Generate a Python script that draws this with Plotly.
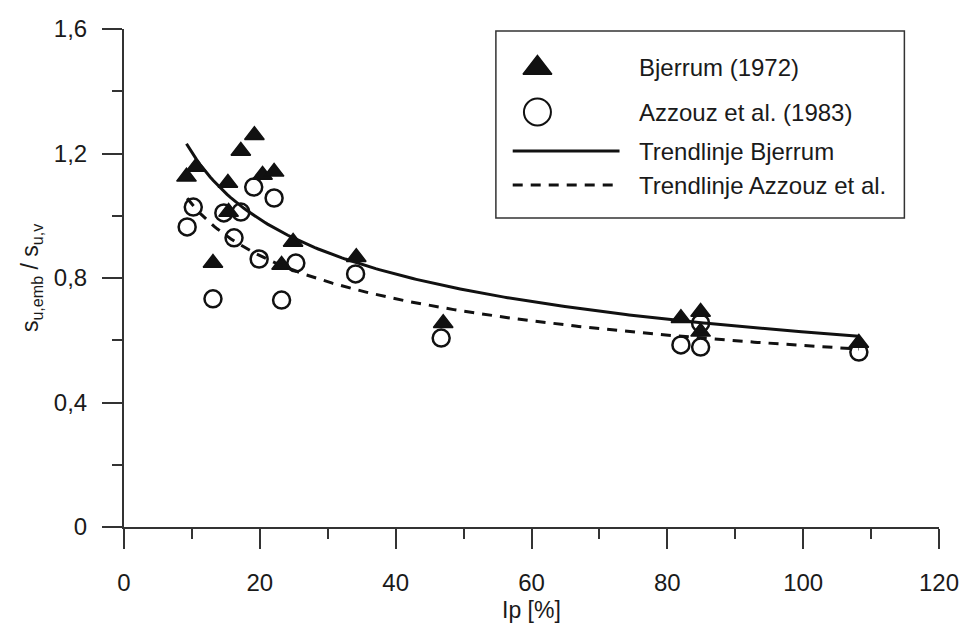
import numpy as np
import plotly.graph_objects as go

# Plasticity index Ip [%] and strength ratio s_u,emb / s_u,v
bjerrum_ip = [9.2, 10.6, 13.1, 15.3, 15.4, 17.2, 19.2, 20.4, 22.1, 23.2, 24.9,
              34.2, 47.0, 82.0, 84.9, 84.9, 108.2]
bjerrum_ratio = [1.125, 1.157, 0.848, 1.105, 1.012, 1.208, 1.259, 1.131, 1.141,
                 0.842, 0.916, 0.867, 0.655, 0.671, 0.691, 0.627, 0.591]

azzouz_ip = [9.3, 10.2, 13.1, 14.7, 16.2, 17.2, 19.1, 19.9, 22.1, 23.2, 25.3,
             34.1, 46.7, 82.0, 84.9, 84.9, 108.2]
azzouz_ratio = [0.964, 1.028, 0.733, 1.009, 0.929, 1.012, 1.092, 0.861, 1.057,
                0.729, 0.848, 0.813, 0.607, 0.585, 0.578, 0.655, 0.562]

x_tickvals = [0, 20, 40, 60, 80, 100, 120]
x_ticktext = ["0", "20", "40", "60", "80", "100", "120"]
y_tickvals = [0, 0.4, 0.8, 1.2, 1.6]
y_ticktext = ["0", "0,4", "0,8", "1,2", "1,6"]

legend_labels = ["Bjerrum (1972)", "Azzouz et al. (1983)",
                 "Trendlinje Bjerrum", "Trendlinje Azzouz et al."]

FONT = "Liberation Sans, Arial, sans-serif"
INK = "#1a1a1a"
AXIS = "#333333"


def power_trend(x, y):
    """Least-squares power-law fit y = a * x^b, evaluated over the data span."""
    x = np.asarray(x, float)
    y = np.asarray(y, float)
    b, ln_a = np.polyfit(np.log(x), np.log(y), 1)
    xs = np.linspace(x.min(), x.max(), 200)
    return xs, np.exp(ln_a) * xs ** b


bj_x, bj_y = power_trend(bjerrum_ip, bjerrum_ratio)
az_x, az_y = power_trend(azzouz_ip, azzouz_ratio)

fig = go.Figure()

fig.add_trace(go.Scatter(
    x=bjerrum_ip, y=bjerrum_ratio, mode="markers", showlegend=False,
    marker=dict(symbol="triangle-up", size=17, color="#111111",
                line=dict(color="#111111", width=1.5)),
))
fig.add_trace(go.Scatter(
    x=azzouz_ip, y=azzouz_ratio, mode="markers", showlegend=False,
    marker=dict(symbol="circle-open", size=17, color="#111111",
                line=dict(color="#111111", width=2.5)),
))
fig.add_trace(go.Scatter(
    x=bj_x, y=bj_y, mode="lines", showlegend=False,
    line=dict(color="#111111", width=3),
))
fig.add_trace(go.Scatter(
    x=az_x, y=az_y, mode="lines", showlegend=False,
    line=dict(color="#111111", width=3, dash="10px,8px"),
))

# Boxed key drawn on a pixel-scaled overlay (x: 124..948 px, y: 527..29 px)
key_sym_x = 542
key_line = [517, 625]
key_text_x = 643
key_rows = [67, 112, 151, 185]

fig.add_trace(go.Scatter(
    x=[key_sym_x], y=[key_rows[0] + 1], xaxis="x2", yaxis="y2", mode="markers",
    showlegend=False, hoverinfo="skip",
    marker=dict(symbol="triangle-up", size=25, color="#111111",
                line=dict(color="#111111", width=1.5)),
))
fig.add_trace(go.Scatter(
    x=[key_sym_x], y=[key_rows[1]], xaxis="x2", yaxis="y2", mode="markers",
    showlegend=False, hoverinfo="skip",
    marker=dict(symbol="circle-open", size=27, color="#111111",
                line=dict(color="#111111", width=2)),
))
fig.add_trace(go.Scatter(
    x=key_line, y=[key_rows[2]] * 2, xaxis="x2", yaxis="y2", mode="lines",
    showlegend=False, hoverinfo="skip", line=dict(color="#111111", width=3),
))
fig.add_trace(go.Scatter(
    x=key_line, y=[key_rows[3]] * 2, xaxis="x2", yaxis="y2", mode="lines",
    showlegend=False, hoverinfo="skip",
    line=dict(color="#111111", width=3, dash="10px,8px"),
))

annotations = []
for label, row in zip(legend_labels, key_rows):
    annotations.append(dict(
        x=key_text_x, y=row, xref="x2", yref="y2", text=label,
        showarrow=False, xanchor="left", yanchor="middle",
        font=dict(family=FONT, size=24, color=INK),
    ))

annotations.append(dict(
    x=-0.114, y=0.50, xref="paper", yref="paper",
    text="s<sub>u,emb</sub> / s<sub>u,v</sub>", textangle=-90,
    showarrow=False, xanchor="center", yanchor="middle",
    font=dict(family=FONT, size=23, color=INK),
))
annotations.append(dict(
    x=0.5, y=-0.167, xref="paper", yref="paper", text="Ip [%]",
    showarrow=False, xanchor="center", yanchor="middle",
    font=dict(family=FONT, size=23, color=INK),
))

axis_common = dict(
    showgrid=False, zeroline=False, showline=True, linecolor=AXIS, linewidth=2,
    ticks="outside", ticklen=20, tickwidth=2, tickcolor=AXIS,
    tickfont=dict(family=FONT, size=24, color=INK),
)

fig.update_layout(
    width=971, height=626,
    margin=dict(l=124, r=23, t=29, b=99),
    paper_bgcolor="white", plot_bgcolor="white",
    showlegend=False,
    xaxis=dict(
        range=[0, 120], tickmode="array", tickvals=x_tickvals, ticktext=x_ticktext,
        ticklabelstandoff=13,
        minor=dict(ticks="outside", ticklen=10, tickwidth=2, tickcolor=AXIS,
                   tick0=0, dtick=10, showgrid=False),
        **axis_common,
    ),
    yaxis=dict(
        range=[0, 1.6], tickmode="array", tickvals=y_tickvals, ticktext=y_ticktext,
        ticklabelstandoff=10,
        minor=dict(ticks="outside", ticklen=10, tickwidth=2, tickcolor=AXIS,
                   tick0=0, dtick=0.2, showgrid=False),
        **axis_common,
    ),
    xaxis2=dict(range=[124, 948], overlaying="x", anchor="y2", visible=False),
    yaxis2=dict(range=[527, 29], overlaying="y", anchor="x2", visible=False),
    shapes=[dict(type="rect", xref="x2", yref="y2", x0=500, x1=913, y0=31, y1=218,
                 line=dict(color="#333333", width=1.5), fillcolor="rgba(0,0,0,0)",
                 layer="below")],
    annotations=annotations,
)

fig.write_html("out.html")
